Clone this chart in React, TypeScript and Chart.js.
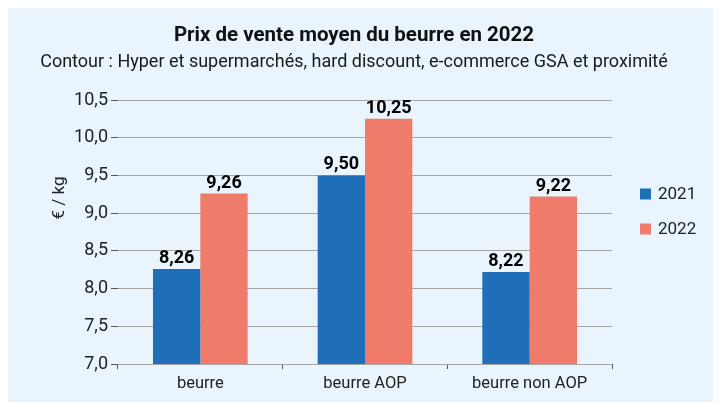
import React, { useEffect, useRef } from "react";
import { Chart, registerables } from "chart.js";

Chart.register(...registerables);

const title = "Prix de vente moyen du beurre en 2022";
const subtitle = "Contour : Hyper et supermarchés, hard discount, e-commerce GSA et proximité";
const yAxisTitle = "€ / kg";
const categories = ["beurre", "beurre AOP", "beurre non AOP"];
const seriesNames = ["2021", "2022"];
const values2021 = [8.26, 9.5, 8.22];
const values2022 = [9.26, 10.25, 9.22];
const yMin = 7;
const yMax = 10.5;
const yStep = 0.5;

const BLUE = "#1f6eb8";
const SALMON = "#ef7c6a";
const FONT = "Roboto, 'Liberation Sans', Arial, sans-serif";

const fr = (v: number, d: number) => v.toFixed(d).replace(".", ",");

const overlay = {
  id: "overlay",
  afterDraw(chart: any) {
    const ctx = chart.ctx as CanvasRenderingContext2D;
    ctx.save();
    ctx.fillStyle = "#111";
    ctx.textAlign = "center";
    ctx.textBaseline = "middle";
    ctx.font = `bold 20.5px ${FONT}`;
    ctx.fillText(title, 346, 28);
    ctx.font = `18px ${FONT}`;
    ctx.fillStyle = "#1a1a1a";
    ctx.fillText(subtitle, 346, 54);

    // y axis title
    ctx.save();
    ctx.translate(52, 190);
    ctx.rotate(-Math.PI / 2);
    ctx.font = `17px ${FONT}`;
    ctx.fillStyle = "#222";
    ctx.fillText(yAxisTitle, 0, 0);
    ctx.restore();

    // data labels
    ctx.font = `bold 18px ${FONT}`;
    ctx.fillStyle = "#000";
    ctx.textBaseline = "alphabetic";
    chart.data.datasets.forEach((ds: any, i: number) => {
      const meta = chart.getDatasetMeta(i);
      meta.data.forEach((bar: any, j: number) => {
        ctx.fillText(fr(ds.data[j], 2), bar.x, bar.y - 6);
      });
    });

    // legend
    ctx.textAlign = "left";
    ctx.textBaseline = "middle";
    ctx.font = `17px ${FONT}`;
    chart.data.datasets.forEach((ds: any, i: number) => {
      const cy = 186 + i * 35;
      ctx.fillStyle = ds.backgroundColor;
      ctx.fillRect(632, cy - 5.5, 11, 11);
      ctx.fillStyle = "#222";
      ctx.fillText(ds.label, 650, cy + 1);
    });
    ctx.restore();
  },
};

export default function App() {
  const ref = useRef<HTMLCanvasElement | null>(null);
  useEffect(() => {
    document.body.style.overflow = "hidden";
    if (!ref.current) return;
    const chart = new Chart(ref.current, {
      type: "bar",
      data: {
        labels: categories,
        datasets: [
          { label: seriesNames[0], data: values2021, backgroundColor: BLUE, borderWidth: 0 },
          { label: seriesNames[1], data: values2022, backgroundColor: SALMON, borderWidth: 0 },
        ],
      },
      options: {
        animation: false,
        responsive: false,
        devicePixelRatio: 1,
        layout: { padding: { top: 92, right: 109, bottom: 0, left: 0 } },
        datasets: { bar: { categoryPercentage: 0.575, barPercentage: 1 } },
        plugins: {
          legend: { display: false },
          title: { display: false },
          tooltip: { enabled: false },
        },
        scales: {
          x: {
            offset: true,
            grid: {
              offset: true,
              drawOnChartArea: false,
              drawTicks: true,
              tickLength: 5,
              tickColor: "#555",
            },
            border: { display: false },
            ticks: { color: "#222", font: { family: FONT, size: 16.5 }, padding: 5 },
            afterFit(scale: any) {
              scale.height = 38;
            },
          },
          y: {
            min: yMin,
            max: yMax,
            grid: { color: "#a5a5a5", tickLength: 7, tickColor: "#555", lineWidth: 1 },
            border: { display: false },
            ticks: {
              stepSize: yStep,
              color: "#222",
              font: { family: FONT, size: 18 },
              padding: 3,
              callback: (v: any) => fr(Number(v), 1),
            },
            afterFit(scale: any) {
              scale.width = 110;
            },
          },
        },
      },
      plugins: [overlay],
    });
    return () => chart.destroy();
  }, []);
  return (
    <div style={{ width: 713, height: 394, background: "#e9f4fc" }}>
      <canvas ref={ref} width={713} height={394} style={{ display: "block" }} />
    </div>
  );
}
